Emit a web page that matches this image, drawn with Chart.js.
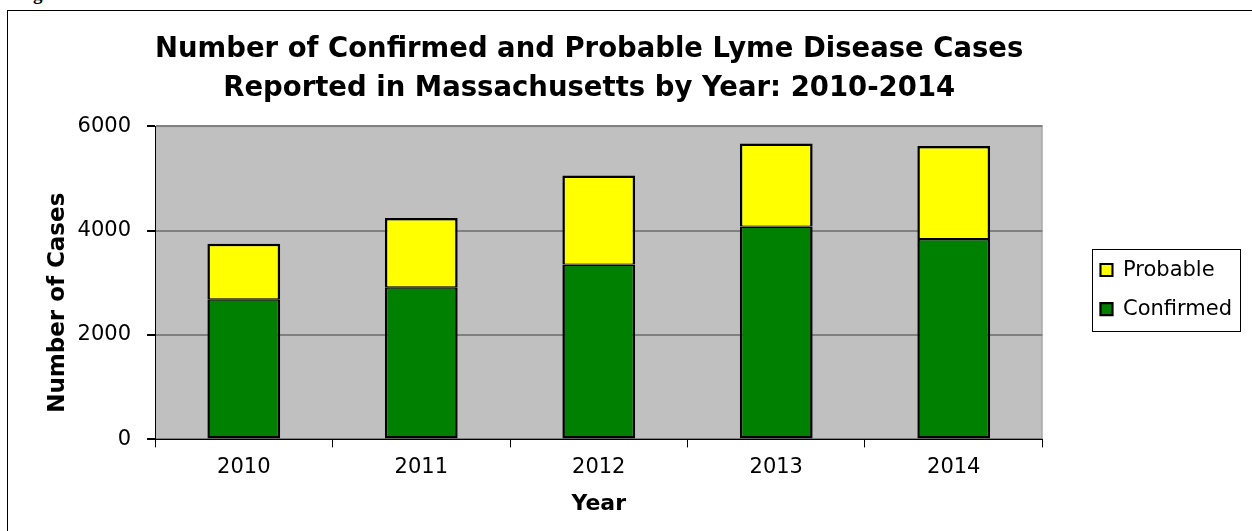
<!DOCTYPE html>
<html>
<head>
<meta charset="utf-8">
<script src="https://cdn.jsdelivr.net/npm/chart.js@4"></script>
<style>
    body { margin: 0; background: #fff; width: 1252px; height: 531px; overflow: hidden; position: relative; }
    #fig-label { position: absolute; left: 16px; top: -17px; font: bold 19px "Liberation Serif", serif; color: #000; }
    #frame { position: absolute; left: 7px; top: 10px; width: 1300px; height: 600px; border: 1px solid #000; box-sizing: border-box; }
    #wrap { position: absolute; left: 0; top: 0; width: 1252px; height: 531px; }
</style>
</head>
<body>
<div id="fig-label">Figure 3</div>
<div id="frame"></div>
<div id="wrap"><canvas id="chart-lyme"></canvas></div>
<script>
const years = ["2010", "2011", "2012", "2013", "2014"];
const confirmedCases = [2682, 2913, 3351, 4077, 3839];
const probableCases = [1067, 1325, 1704, 1589, 1781];
const yTicks = [0, 2000, 4000, 6000];

const FONT = '"DejaVu Sans", "Liberation Sans", Arial, sans-serif';

// grey plot background + light border like the old Excel style
const plotBackground = {
    id: "plotBackground",
    beforeDraw(chart) {
        const a = chart.chartArea;
        const ctx = chart.ctx;
        ctx.save();
        ctx.fillStyle = "#c0c0c0";
        ctx.fillRect(a.left, a.top, a.right - a.left, a.bottom - a.top);
        ctx.strokeStyle = "#9a9a9a";
        ctx.lineWidth = 1;
        ctx.strokeRect(a.left + 0.5, a.top + 0.5, a.right - a.left - 1, a.bottom - a.top - 1);
        ctx.restore();
    }
};

// box around the legend
const legendFrame = {
    id: "legendFrame",
    afterDraw(chart) {
        const boxes = chart.legend.legendHitBoxes;
        if (!boxes || !boxes.length) return;
        let l = Infinity, t = Infinity, r = -Infinity, b = -Infinity;
        boxes.forEach(h => {
            l = Math.min(l, h.left); t = Math.min(t, h.top);
            r = Math.max(r, h.left + h.width); b = Math.max(b, h.top + h.height);
        });
        const ctx = chart.ctx;
        ctx.save();
        ctx.strokeStyle = "#000";
        ctx.lineWidth = 1;
        ctx.strokeRect(Math.round(l - 8) + 0.5, Math.round(t - 11) + 0.5, Math.round(r - l + 16), Math.round(b - t + 22));
        ctx.restore();
    }
};

new Chart(document.getElementById("chart-lyme").getContext("2d"), {
    type: "bar",
    data: {
        labels: years,
        datasets: [
            {
                label: "Confirmed",
                data: confirmedCases,
                backgroundColor: "#008000",
                borderColor: "#000",
                borderWidth: { top: 1.5, bottom: 2.5, left: 2.5, right: 2.5 },
                borderSkipped: false
            },
            {
                label: "Probable",
                data: probableCases,
                backgroundColor: "#ffff00",
                borderColor: "#000",
                borderWidth: { top: 2.5, bottom: 1, left: 2.5, right: 2.5 },
                borderSkipped: false
            }
        ]
    },
    options: {
        responsive: true,
        maintainAspectRatio: false,
        animation: false,
        datasets: { bar: { barPercentage: 1, categoryPercentage: 0.41 } },
        layout: { padding: { left: 44, right: 10, top: 0, bottom: 14 } },
        scales: {
            x: {
                stacked: true,
                border: { color: "#000", width: 1 },
                grid: { offset: true, drawOnChartArea: false, tickLength: 8, color: "#000", tickColor: "#000" },
                ticks: { color: "#000", font: { family: FONT, size: 21 }, padding: 8 },
                title: { display: true, text: "Year", color: "#000", font: { family: FONT, size: 22, weight: "bold" }, padding: { top: 2, bottom: 0 } }
            },
            y: {
                stacked: true,
                min: 0,
                max: 6000,
                afterBuildTicks(axis) { axis.ticks = yTicks.map(v => ({ value: v })); },
                border: { color: "#000", width: 1 },
                grid: { color: "#808080", lineWidth: 2, tickLength: 8, tickColor: "#000" },
                ticks: { color: "#000", font: { family: FONT, size: 21 }, padding: 16, callback: v => String(v) },
                // trailing spaces nudge the rotated title a bit lower, as in the original
                title: { display: true, text: "Number of Cases     ", color: "#000", font: { family: FONT, size: 23, weight: "bold" }, padding: { top: 0, bottom: -10 } }
            },
            // empty spacer between the plot and the legend
            gap: {
                type: "linear",
                position: "right",
                display: true,
                grid: { display: false },
                border: { display: false },
                ticks: { display: false },
                afterFit(axis) { axis.width = 40; }
            }
        },
        plugins: {
            title: {
                display: true,
                fullSize: false,
                text: ["Number of Confirmed and Probable Lyme Disease Cases  ", "Reported in Massachusetts by Year: 2010-2014  "],
                color: "#000",
                font: { family: FONT, size: 27.5, weight: "bold", lineHeight: 1.42 },
                padding: { top: 30, bottom: 18 }
            },
            legend: {
                position: "right",
                fullSize: false,
                reverse: true,
                title: { display: true, text: " ", font: { size: 3 }, padding: { top: 5, bottom: 5 } },
                labels: {
                    color: "#000",
                    font: { family: FONT, size: 21 },
                    boxWidth: 12,
                    boxHeight: 12,
                    padding: 18,
                    useBorderRadius: false
                }
            },
            tooltip: { enabled: false }
        }
    },
    plugins: [plotBackground, legendFrame]
});
</script>
</body>
</html>
